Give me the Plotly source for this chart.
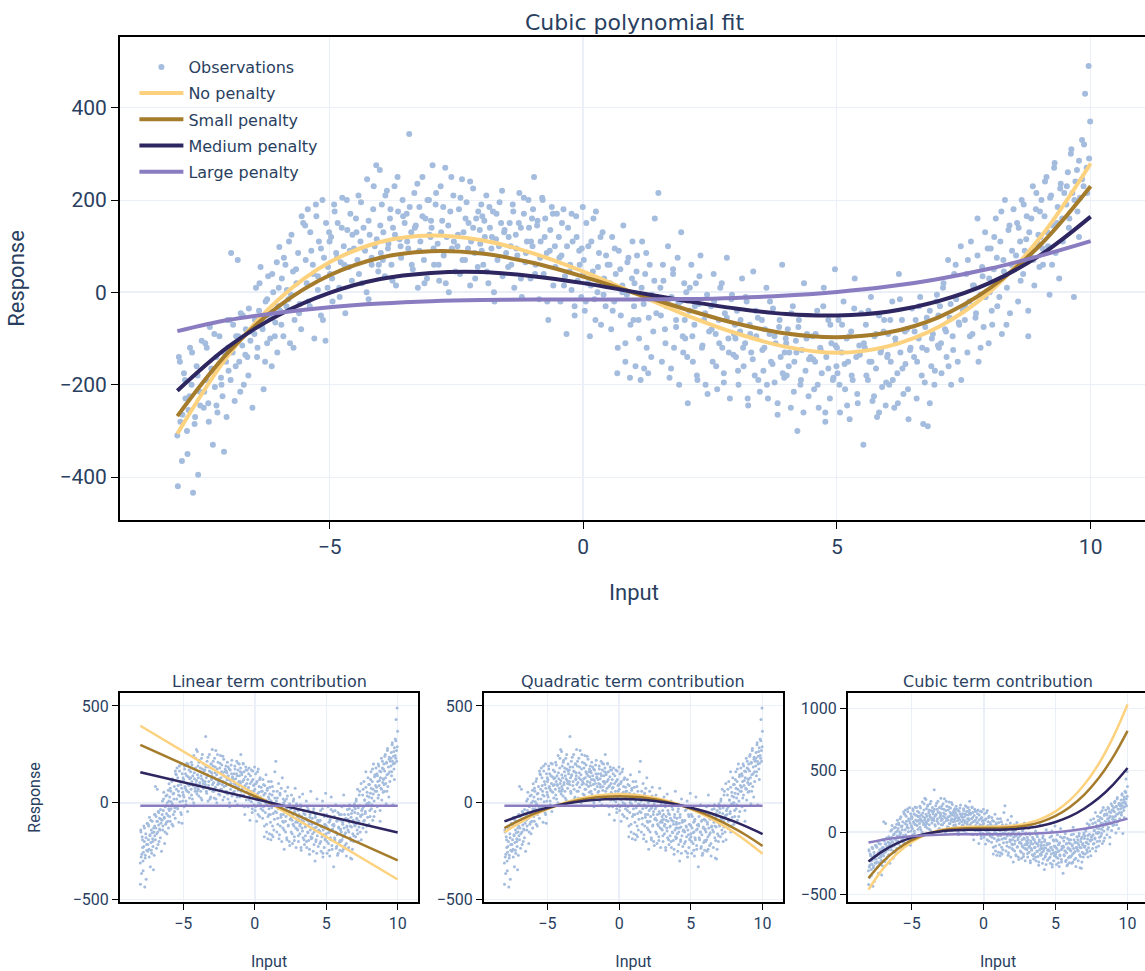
import plotly.graph_objects as go

# ---------------------------------------------------------------- observations
# first batch, 16 points per half-unit of input
obs_x_a = [
    -7.99, -7.97, -7.94, -7.91, -7.87, -7.84, -7.81, -7.78, -7.75, -7.72, -7.69, -7.65, -7.62, -7.59, -7.56, -7.52,
    -7.48, -7.45, -7.43, -7.39, -7.36, -7.33, -7.30, -7.26, -7.23, -7.21, -7.17, -7.14, -7.11, -7.08, -7.04, -7.01,
    -6.99, -6.97, -6.94, -6.91, -6.87, -6.84, -6.81, -6.78, -6.75, -6.72, -6.69, -6.65, -6.62, -6.59, -6.56, -6.52,
    -6.48, -6.45, -6.43, -6.39, -6.36, -6.33, -6.30, -6.26, -6.23, -6.21, -6.17, -6.14, -6.11, -6.08, -6.04, -6.01,
    -5.99, -5.97, -5.94, -5.91, -5.87, -5.84, -5.81, -5.78, -5.75, -5.72, -5.69, -5.65, -5.62, -5.59, -5.56, -5.52,
    -5.48, -5.45, -5.43, -5.39, -5.36, -5.33, -5.30, -5.26, -5.23, -5.21, -5.17, -5.14, -5.11, -5.08, -5.04, -5.01,
    -4.99, -4.97, -4.94, -4.91, -4.87, -4.84, -4.81, -4.78, -4.75, -4.72, -4.69, -4.65, -4.62, -4.59, -4.56, -4.52,
    -4.48, -4.45, -4.43, -4.39, -4.36, -4.33, -4.30, -4.26, -4.23, -4.21, -4.17, -4.14, -4.11, -4.08, -4.04, -4.01,
    -3.99, -3.97, -3.94, -3.91, -3.87, -3.84, -3.81, -3.78, -3.75, -3.72, -3.69, -3.65, -3.62, -3.59, -3.56, -3.52,
    -3.48, -3.45, -3.43, -3.39, -3.36, -3.33, -3.30, -3.26, -3.23, -3.21, -3.17, -3.14, -3.11, -3.08, -3.04, -3.01,
    -2.99, -2.97, -2.94, -2.91, -2.87, -2.84, -2.81, -2.78, -2.75, -2.72, -2.69, -2.65, -2.62, -2.59, -2.56, -2.52,
    -2.48, -2.45, -2.43, -2.39, -2.36, -2.33, -2.30, -2.26, -2.23, -2.21, -2.17, -2.14, -2.11, -2.08, -2.04, -2.01,
    -1.99, -1.97, -1.94, -1.91, -1.87, -1.84, -1.81, -1.78, -1.75, -1.72, -1.69, -1.65, -1.62, -1.59, -1.56, -1.52,
    -1.48, -1.45, -1.43, -1.39, -1.36, -1.33, -1.30, -1.26, -1.23, -1.21, -1.17, -1.14, -1.11, -1.08, -1.04, -1.01,
    -0.99, -0.97, -0.94, -0.91, -0.87, -0.84, -0.81, -0.78, -0.75, -0.72, -0.69, -0.65, -0.62, -0.59, -0.56, -0.52,
    -0.48, -0.45, -0.43, -0.39, -0.36, -0.33, -0.30, -0.26, -0.23, -0.21, -0.17, -0.14, -0.11, -0.08, -0.04, -0.01,
    0.01, 0.03, 0.06, 0.09, 0.13, 0.16, 0.19, 0.22, 0.25, 0.28, 0.31, 0.35, 0.38, 0.41, 0.44, 0.48,
    0.52, 0.55, 0.57, 0.61, 0.64, 0.67, 0.70, 0.74, 0.77, 0.79, 0.83, 0.86, 0.89, 0.92, 0.96, 0.99,
    1.01, 1.03, 1.06, 1.09, 1.13, 1.16, 1.19, 1.22, 1.25, 1.28, 1.31, 1.35, 1.38, 1.41, 1.44, 1.48,
    1.52, 1.55, 1.57, 1.61, 1.64, 1.67, 1.70, 1.74, 1.77, 1.79, 1.83, 1.86, 1.89, 1.92, 1.96, 1.99,
    2.01, 2.03, 2.06, 2.09, 2.13, 2.16, 2.19, 2.22, 2.25, 2.28, 2.31, 2.35, 2.38, 2.41, 2.44, 2.48,
    2.52, 2.55, 2.57, 2.61, 2.64, 2.67, 2.70, 2.74, 2.77, 2.79, 2.83, 2.86, 2.89, 2.92, 2.96, 2.99,
    3.01, 3.03, 3.06, 3.09, 3.13, 3.16, 3.19, 3.22, 3.25, 3.28, 3.31, 3.35, 3.38, 3.41, 3.44, 3.48,
    3.52, 3.55, 3.57, 3.61, 3.64, 3.67, 3.70, 3.74, 3.77, 3.79, 3.83, 3.86, 3.89, 3.92, 3.96, 3.99,
    4.01, 4.03, 4.06, 4.09, 4.13, 4.16, 4.19, 4.22, 4.25, 4.28, 4.31, 4.35, 4.38, 4.41, 4.44, 4.48,
    4.52, 4.55, 4.57, 4.61, 4.64, 4.67, 4.70, 4.74, 4.77, 4.79, 4.83, 4.86, 4.89, 4.92, 4.96, 4.99,
    5.01, 5.03, 5.06, 5.09, 5.13, 5.16, 5.19, 5.22, 5.25, 5.28, 5.31, 5.35, 5.38, 5.41, 5.44, 5.48,
    5.52, 5.55, 5.57, 5.61, 5.64, 5.67, 5.70, 5.74, 5.77, 5.79, 5.83, 5.86, 5.89, 5.92, 5.96, 5.99,
    6.01, 6.03, 6.06, 6.09, 6.13, 6.16, 6.19, 6.22, 6.25, 6.28, 6.31, 6.35, 6.38, 6.41, 6.44, 6.48,
    6.52, 6.55, 6.57, 6.61, 6.64, 6.67, 6.70, 6.74, 6.77, 6.79, 6.83, 6.86, 6.89, 6.92, 6.96, 6.99,
    7.01, 7.03, 7.06, 7.09, 7.13, 7.16, 7.19, 7.22, 7.25, 7.28, 7.31, 7.35, 7.38, 7.41, 7.44, 7.48,
    7.52, 7.55, 7.57, 7.61, 7.64, 7.67, 7.70, 7.74, 7.77, 7.79, 7.83, 7.86, 7.89, 7.92, 7.96, 7.99,
    8.01, 8.03, 8.06, 8.09, 8.13, 8.16, 8.19, 8.22, 8.25, 8.28, 8.31, 8.35, 8.38, 8.41, 8.44, 8.48,
    8.52, 8.55, 8.57, 8.61, 8.64, 8.67, 8.70, 8.74, 8.77, 8.79, 8.83, 8.86, 8.89, 8.92, 8.96, 8.99,
    9.01, 9.03, 9.06, 9.09, 9.13, 9.16, 9.19, 9.22, 9.25, 9.28, 9.31, 9.35, 9.38, 9.41, 9.44, 9.48,
    9.52, 9.55, 9.57, 9.61, 9.64, 9.67, 9.70, 9.74, 9.77, 9.79, 9.83, 9.86, 9.89, 9.92, 9.96, 9.99,
]
obs_y_a = [
    -420, -140, -280, -365, -175, -230, -300, -255, -120, -200, -434, -270, -160, -395, -215, -105,
    -250, -110, -190, -240, -75, -165, -330, -205, -140, -260, -95, -185, -225, -345, -150, -60,
    -170, -60, 85, -130, -235, -95, 70, -150, -45, -115, -200, -80, -140, -35, -105, -250,
    -90, 10, -140, -40, 55, -75, -210, -20, -110, 35, -55, -160, 0, -95, 65, -30,
    98, -40, 30, -95, 60, 5, -15, -110, 125, 45, -60, 20, 85, -25, -80, 150,
    145, 20, 180, -30, 90, 60, -100, 165, 35, 110, -50, 200, 75, -105, 10, 130,
    40, 120, -20, 190, 85, 150, 10, 65, 205, 100, -45, 135, 55, 170, 25, 95,
    160, 70, 210, 110, 20, 140, 90, 245, -15, 125, 60, 180, 100, 275, 45, 265,
    85, 190, 130, 35, 220, 105, 160, 60, 140, 230, 15, 175, 115, 75, 200, 150,
    170, 95, 343, 130, 50, 215, 145, 10, 185, 110, 250, 70, 160, 30, 200, 120,
    140, 275, 60, 190, 105, 25, 230, 155, 80, 270, 120, 0, 175, 95, 210, 45,
    100, 180, 40, 245, 130, 70, 195, 150, 15, 110, 225, 85, 160, 55, 135, 190,
    165, 60, 120, 210, 20, 140, 95, 175, -20, 115, 70, 195, 150, 35, 130, 85,
    55, 150, 100, 190, 10, 125, 80, 215, 140, -10, 170, 65, 110, 200, 30, 160,
    180, 250, 60, 145, -15, 110, 205, 40, 160, 85, -60, 135, 185, 15, 100, 170,
    120, -20, 80, 180, 35, -90, 140, 60, 5, 110, -50, 165, 25, 90, -10, 185,
    70, -40, 150, 20, -95, 110, 45, -15, 175, 0, 85, -70, 130, 30, -30, 60,
    60, -80, 120, -20, 40, -175, 90, -50, 15, 145, -110, -5, 75, -185, 30, -60,
    20, -160, 80, -60, -190, 110, -25, 40, -120, -175, 60, -5, -85, 160, -45, 215,
    10, -150, 60, -80, -30, 100, -185, -10, 40, -120, -60, 75, -200, -20, -95, 20,
    -100, 0, -240, -40, 60, -150, -70, 20, -190, -25, 80, -115, -60, -200, -5, -85,
    -30, -150, 40, -90, -210, -60, 10, -120, -175, -45, 75, -100, -230, -15, -135, -70,
    -140, -40, -200, -85, 30, -160, -110, -20, -245, -70, -130, 45, -180, -95, -55, -215,
    -60, -170, -120, 10, -230, -90, -150, -35, -195, -110, -265, -75, -140, 60, -185, -100,
    -180, -80, -130, -250, -30, -150, -105, -300, -60, -200, -125, 20, -170, -90, -225, -140,
    -95, -210, -150, -40, -250, -120, -175, 10, -280, -140, -60, -230, -110, -190, 50, -160,
    -175, -60, -260, -130, -20, -210, -100, -150, -275, -85, -190, 30, -140, -240, -115, -45,
    -330, -120, -70, -190, -150, -10, -235, -95, -165, -270, -50, -130, -205, -85, -245, -140,
    -90, -200, -150, -20, -250, -110, -175, 40, -130, -60, -220, -155, -80, -275, -125, -35,
    -140, -60, -230, -100, -10, -180, -285, -75, -125, -290, -40, -160, -90, -200, -20, -115,
    -120, -30, -175, 10, -80, -140, 70, -55, -200, -95, 40, -15, -150, -70, 100, -40,
    -60, 40, -130, -20, 110, -90, 15, -45, 80, -150, -5, 55, -75, 130, 0, -110,
    0, 95, -70, 50, 160, -30, 25, 110, -90, 70, 200, 10, 135, -45, 60, 180,
    60, 150, -20, 110, 200, 40, 90, 165, -95, 130, 75, 230, 15, 180, 105, 55,
    120, 200, 60, 165, 250, 100, -5, 210, 145, 270, 85, 185, 30, 235, 160, 215,
    190, 260, 140, 300, 215, -10, 240, 175, 285, 205, 330, 230, 430, 270, 490, 370,
]
# second batch, 10 points per half-unit of input
obs_x_b = [
    -8.00, -7.95, -7.90, -7.85, -7.80, -7.76, -7.71, -7.66, -7.60, -7.55,
    -7.47, -7.42, -7.38, -7.32, -7.27, -7.23, -7.17, -7.13, -7.07, -7.03,
    -7.00, -6.95, -6.90, -6.85, -6.80, -6.76, -6.71, -6.66, -6.60, -6.55,
    -6.47, -6.42, -6.38, -6.32, -6.27, -6.23, -6.17, -6.13, -6.07, -6.03,
    -6.00, -5.95, -5.90, -5.85, -5.80, -5.76, -5.71, -5.66, -5.60, -5.55,
    -5.47, -5.42, -5.38, -5.32, -5.27, -5.23, -5.17, -5.13, -5.07, -5.03,
    -5.00, -4.95, -4.90, -4.85, -4.80, -4.76, -4.71, -4.66, -4.60, -4.55,
    -4.47, -4.42, -4.38, -4.32, -4.27, -4.23, -4.17, -4.13, -4.07, -4.03,
    -4.00, -3.95, -3.90, -3.85, -3.80, -3.76, -3.71, -3.66, -3.60, -3.55,
    -3.47, -3.42, -3.38, -3.32, -3.27, -3.23, -3.17, -3.13, -3.07, -3.03,
    -3.00, -2.95, -2.90, -2.85, -2.80, -2.76, -2.71, -2.66, -2.60, -2.55,
    -2.47, -2.42, -2.38, -2.32, -2.27, -2.23, -2.17, -2.13, -2.07, -2.03,
    -2.00, -1.95, -1.90, -1.85, -1.80, -1.76, -1.71, -1.66, -1.60, -1.55,
    -1.47, -1.42, -1.38, -1.32, -1.27, -1.23, -1.17, -1.13, -1.07, -1.03,
    -1.00, -0.95, -0.90, -0.85, -0.80, -0.76, -0.71, -0.66, -0.60, -0.55,
    -0.47, -0.42, -0.38, -0.32, -0.27, -0.23, -0.17, -0.13, -0.07, -0.03,
    0.00, 0.05, 0.10, 0.15, 0.20, 0.24, 0.29, 0.34, 0.40, 0.45,
    0.53, 0.58, 0.62, 0.68, 0.73, 0.77, 0.83, 0.87, 0.93, 0.97,
    1.00, 1.05, 1.10, 1.15, 1.20, 1.24, 1.29, 1.34, 1.40, 1.45,
    1.53, 1.58, 1.62, 1.68, 1.73, 1.77, 1.83, 1.87, 1.93, 1.97,
    2.00, 2.05, 2.10, 2.15, 2.20, 2.24, 2.29, 2.34, 2.40, 2.45,
    2.53, 2.58, 2.62, 2.68, 2.73, 2.77, 2.83, 2.87, 2.93, 2.97,
    3.00, 3.05, 3.10, 3.15, 3.20, 3.24, 3.29, 3.34, 3.40, 3.45,
    3.53, 3.58, 3.62, 3.68, 3.73, 3.77, 3.83, 3.87, 3.93, 3.97,
    4.00, 4.05, 4.10, 4.15, 4.20, 4.24, 4.29, 4.34, 4.40, 4.45,
    4.53, 4.58, 4.62, 4.68, 4.73, 4.77, 4.83, 4.87, 4.93, 4.97,
    5.00, 5.05, 5.10, 5.15, 5.20, 5.24, 5.29, 5.34, 5.40, 5.45,
    5.53, 5.58, 5.62, 5.68, 5.73, 5.77, 5.83, 5.87, 5.93, 5.97,
    6.00, 6.05, 6.10, 6.15, 6.20, 6.24, 6.29, 6.34, 6.40, 6.45,
    6.53, 6.58, 6.62, 6.68, 6.73, 6.77, 6.83, 6.87, 6.93, 6.97,
    7.00, 7.05, 7.10, 7.15, 7.20, 7.24, 7.29, 7.34, 7.40, 7.45,
    7.53, 7.58, 7.62, 7.68, 7.73, 7.77, 7.83, 7.87, 7.93, 7.97,
    8.00, 8.05, 8.10, 8.15, 8.20, 8.24, 8.29, 8.34, 8.40, 8.45,
    8.53, 8.58, 8.62, 8.68, 8.73, 8.77, 8.83, 8.87, 8.93, 8.97,
    9.00, 9.05, 9.10, 9.15, 9.20, 9.24, 9.29, 9.34, 9.40, 9.45,
    9.53, 9.58, 9.62, 9.68, 9.73, 9.77, 9.83, 9.87, 9.93, 9.97,
]
obs_y_b = [
    -310, -150, -265, -190, -350, -225, -130, -285, -180, -245,
    -215, -120, -280, -170, -90, -245, -155, -200, -130, -270,
    -120, -190, -70, -160, -95, -215, -50, -135, -180, -85,
    -60, -120, 20, -80, -150, -15, -100, 40, -65, -130,
    10, -70, 75, -30, 110, -5, -120, 50, -45, 165,
    70, -20, 130, 40, 190, 5, 95, -60, 150, 55,
    110, 30, 175, 75, -10, 140, 60, 200, 90, 125,
    130, 40, 195, 95, 0, 155, 75, 230, 115, 60,
    145, 70, 210, 95, 180, 25, 125, 250, 100, 165,
    110, 185, 60, 140, 235, 90, 165, 20, 200, 125,
    155, 95, 215, 60, 130, 185, 20, 145, 250, 110,
    125, 205, 70, 160, 95, 240, 140, 30, 175, 105,
    90, 155, 45, 185, 120, 0, 170, 100, 220, 135,
    120, 60, 175, 95, 150, 30, 205, 85, 140, 110,
    100, 40, 155, 75, 200, 120, -20, 90, 170, 55,
    75, 150, 15, 100, 45, 170, -30, 120, 60, 95,
    40, -20, 100, 15, 160, -60, 55, 120, -5, 80,
    20, -40, 95, -120, 50, 0, -150, 65, -70, 110,
    -30, 45, -100, 10, -165, 85, -55, -140, 25, -10,
    -50, 25, -110, -15, -165, 50, -75, -25, 130, -130,
    -60, -140, 10, -95, -30, -180, 35, -120, -45, -220,
    -80, -20, -160, -110, 20, -195, -55, -130, -5, -90,
    -100, -170, -60, -120, -10, -230, -90, -145, -40, -190,
    -125, -80, -200, -20, -155, -95, -240, -60, -175, -130,
    -110, -160, -45, -215, -130, -75, -190, -260, -100, -145,
    -145, -90, -200, -125, -30, -260, -165, -70, -185, -115,
    -120, -200, -70, -155, -245, -95, -180, -35, -220, -135,
    -110, -180, -40, -150, -225, -90, -260, -125, -60, -195,
    -135, -60, -190, -100, -240, -15, -165, -85, -210, -120,
    -85, -150, -30, -120, -195, -55, -240, -100, -170, -5,
    -50, -110, 20, -85, -160, -25, -125, 60, -65, -190,
    -30, 70, -95, 15, -55, 160, -120, 35, -10, 95,
    30, -40, 120, 75, -10, 175, 45, -70, 145, 90,
    80, 140, 25, 190, 115, -40, 160, 70, 215, 125,
    175, 95, 240, 130, 205, 60, 280, 150, 225, 110,
    230, 160, 310, 200, 265, 120, 245, 320, 215, 290,
]
obs_x = obs_x_a + obs_x_b
obs_y = obs_y_a + obs_y_b

# ---------------------------------------------------------------- fitted curves
fit_x = [-8, -7, -6, -5, -4, -3, -2, -1, 0, 1, 2, 3, 4, 5, 6, 7, 8, 9, 10]
fit_none = [-306, -137, -15, 65, 109, 123, 113, 85, 45, -1, -48, -88, -118, -131, -117, -75, 0, 118, 279]
fit_small = [-268, -130, -30, 37, 75, 89, 84, 64, 34, -1, -36, -67, -89, -97, -87, -54, 8, 102, 230]
fit_medium = [-213, -118, -49, -1, 29, 42, 44, 35, 20, 1, -18, -35, -47, -50, -42, -19, 20, 80, 164]
fit_large = [-84, -60, -44, -32, -24, -19, -16.5, -15.6, -15.5, -15.4, -14.5, -12, -7, 1, 12.6, 29, 51, 79, 111]

# linear term contribution (straight lines, end points)
lin_x = [-8, 10]
lin_none = [398, -396]
lin_small = [299, -297]
lin_medium = [158, -153]
lin_large = [-15.5, -15.5]

# quadratic term contribution
quad_none = [-152, -106, -66, -32, -4, 17, 33, 42, 45, 42, 33, 17, -4, -32, -66, -106, -152, -205, -263]
quad_small = [-131, -92, -58, -30, -7, 11, 24, 31, 34, 31, 24, 11, -7, -30, -58, -92, -131, -174, -223]
quad_medium = [-96, -69, -45, -25, -9, 4, 13, 18, 20, 18, 13, 4, -9, -25, -45, -69, -96, -127, -161]
quad_large = [-15.5, -15.5]

# cubic term contribution
cubic_none = [-462, -295, -169, -79, -18, 18, 37, 44, 45, 46, 53, 72, 108, 169, 259, 385, 552, 767, 1030]
cubic_small = [-369, -236, -136, -64, -16, 13, 28, 33, 34, 35, 40, 55, 84, 132, 204, 304, 437, 608, 818]
cubic_medium = [-236, -152, -88, -43, -12, 7, 16, 20, 20, 21, 24, 34, 52, 83, 128, 192, 276, 385, 518]
cubic_large = [-83, -60, -44, -32, -24, -19, -16.5, -15.6, -15.5, -15.4, -14.5, -12, -7, 1, 12.6, 29, 51, 79, 110]

penalty_names = ["No penalty", "Small penalty", "Medium penalty", "Large penalty"]
penalty_colors = ["#fdd27f", "#a57b2c", "#2d2660", "#8a7cc0"]
obs_color = "#a4bcdd"
text_color = "#2a3f5f"

main_title = "Cubic polynomial fit"
panel_titles = ["Linear term contribution", "Quadratic term contribution", "Cubic term contribution"]

# ---------------------------------------------------------------- figure
fig = go.Figure()

fig.add_trace(go.Scatter(
    x=obs_x, y=obs_y, mode="markers", name="Observations", legendgroup="obs",
    marker=dict(color=obs_color, size=6), xaxis="x", yaxis="y",
))
for name, color, ys in zip(penalty_names, penalty_colors,
                           [fit_none, fit_small, fit_medium, fit_large]):
    fig.add_trace(go.Scatter(
        x=fit_x, y=ys, mode="lines", name=name, legendgroup=name,
        line=dict(color=color, width=4, shape="spline"),
        xaxis="x", yaxis="y",
    ))

panels = [
    ("x2", "y2", [(lin_x, lin_none), (lin_x, lin_small), (lin_x, lin_medium), (lin_x, lin_large)]),
    ("x3", "y3", [(fit_x, quad_none), (fit_x, quad_small), (fit_x, quad_medium), (lin_x, quad_large)]),
    ("x4", "y4", [(fit_x, cubic_none), (fit_x, cubic_small), (fit_x, cubic_medium), (fit_x, cubic_large)]),
]
for xa, ya, curves in panels:
    fig.add_trace(go.Scatter(
        x=obs_x, y=obs_y, mode="markers", showlegend=False,
        marker=dict(color=obs_color, size=3), xaxis=xa, yaxis=ya,
    ))
    for (cx, cy), color in zip(curves, penalty_colors):
        fig.add_trace(go.Scatter(
            x=cx, y=cy, mode="lines", showlegend=False,
            line=dict(color=color, width=2.5, shape="spline"),
            xaxis=xa, yaxis=ya,
        ))

axis_style = dict(
    showline=True, linecolor="black", linewidth=2, mirror=True,
    ticks="outside", tickcolor="black", tickwidth=1,
    gridcolor="#EBF0F8", zeroline=True, zerolinecolor="#EBF0F8", zerolinewidth=2,
    automargin=False,
)
big_tick = dict(family="Roboto", size=21, color=text_color)
big_title = dict(family="Roboto", size=22, color=text_color)
small_tick = dict(family="Roboto", size=16, color=text_color)
small_title = dict(family="Roboto", size=16, color=text_color)

main_dom = [0.4416, 1.0]
low_dom = [0.0, 0.2416]
col_doms = [[0.0, 0.2899], [0.3541, 0.6449], [0.7082, 1.0]]

layout_axes = dict(
    xaxis=dict(axis_style, domain=[0, 1], anchor="y", range=[-9.13, 11.13], dtick=5,
               ticklen=7, tickfont=big_tick,
               title=dict(text="Input", font=big_title, standoff=26)),
    yaxis=dict(axis_style, domain=main_dom, anchor="x", range=[-493, 553], dtick=200,
               ticklen=7, tickfont=big_tick,
               title=dict(text="Response", font=big_title, standoff=29)),
)
y_ranges = [[-512, 567], [-512, 567], [-562, 1123]]
for i, (dom, yr) in enumerate(zip(col_doms, y_ranges)):
    n = i + 2
    layout_axes[f"xaxis{n}"] = dict(
        axis_style, domain=dom, anchor=f"y{n}", range=[-9.42, 11.42], dtick=5,
        ticklen=6, tickfont=small_tick,
        title=dict(text="Input", font=small_title, standoff=24),
    )
    ydict = dict(axis_style, domain=low_dom, anchor=f"x{n}", range=yr, dtick=500,
                 ticklen=6, tickfont=small_tick)
    if i == 0:
        ydict["title"] = dict(text="Response", font=small_title, standoff=28)
    layout_axes[f"yaxis{n}"] = ydict

annotations = [dict(
    text=main_title, x=0.5, y=main_dom[1], xref="paper", yref="paper",
    xanchor="center", yanchor="bottom", showarrow=False,
    font=dict(family="DejaVu Sans", size=22, color=text_color),
)]
for title, dom in zip(panel_titles, col_doms):
    annotations.append(dict(
        text=title, x=(dom[0] + dom[1]) / 2, y=low_dom[1], xref="paper", yref="paper",
        xanchor="center", yanchor="bottom", showarrow=False,
        font=dict(family="DejaVu Sans", size=16, color=text_color),
    ))

fig.update_layout(
    template="plotly_white",
    width=1200, height=971,
    margin=dict(l=120, r=52, t=37, b=69),
    font=dict(family="Roboto", color=text_color),
    plot_bgcolor="white", paper_bgcolor="white",
    legend=dict(
        x=0.014, y=0.985, xanchor="left", yanchor="top",
        bgcolor="rgba(255,255,255,0)", itemwidth=44,
        traceorder="grouped", tracegroupgap=2.4,
        font=dict(family="DejaVu Sans", size=16, color=text_color),
    ),
    annotations=annotations,
    **layout_axes,
)

fig.write_html("out.html")
